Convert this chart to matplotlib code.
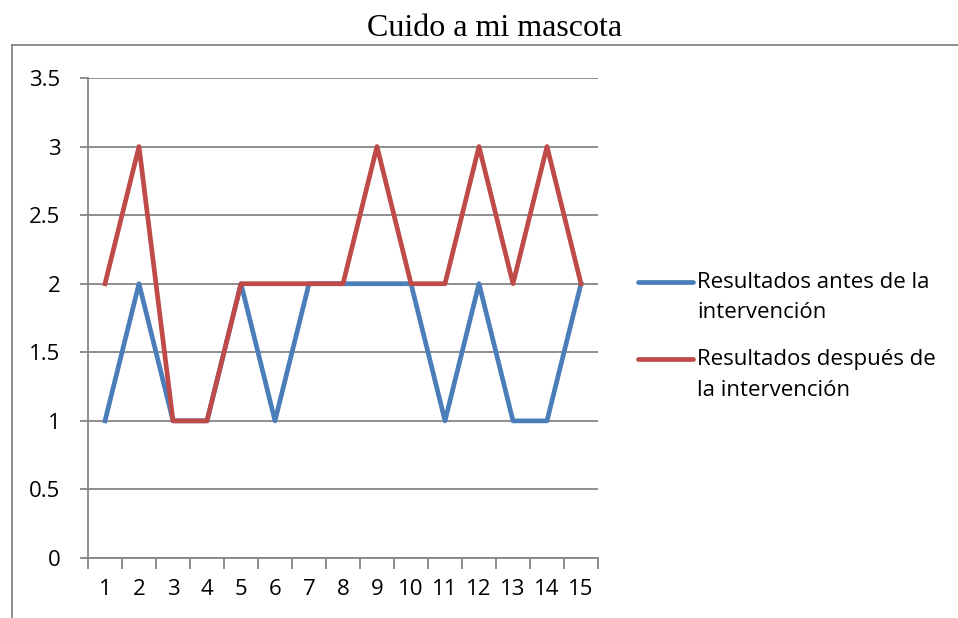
import numpy as np
import matplotlib
matplotlib.use("Agg")
import matplotlib.pyplot as plt
from matplotlib.lines import Line2D

# data
categories = list(range(1, 16))
antes = [1, 2, 1, 1, 2, 1, 2, 2, 2, 2, 1, 2, 1, 1, 2]
despues = [2, 3, 1, 1, 2, 2, 2, 2, 3, 2, 2, 3, 2, 3, 2]
labels = [["Resultados antes de la", "intervención"],
          ["Resultados después de", "la intervención"]]
title = "Cuido a mi mascota"
yticks = [0, 0.5, 1, 1.5, 2, 2.5, 3, 3.5]

blue = "#4A7EBB"
red = "#BE4B48"
grid_grey = "#868686"
font = "Open Sans"
fsize = 16

W, H = 958, 618
fig = plt.figure(figsize=(W / 100, H / 100), dpi=100)
ax = fig.add_axes([88 / W, 1 - 558 / H, (598 - 88) / W, (558 - 78) / H])

x = np.arange(1, len(categories) + 1)
ax.plot(x, antes, color=blue, linewidth=3.4, solid_joinstyle="round", zorder=3)
ax.plot(x, despues, color=red, linewidth=3.4, solid_joinstyle="round", zorder=4)

ax.set_xlim(0.5, len(categories) + 0.5)
ax.set_ylim(0, 3.5)
ax.set_yticks(yticks)
ax.set_yticklabels([("%g" % v) for v in yticks], family=font, fontsize=fsize)
ax.set_xticks(np.arange(0.5, len(categories) + 1, 1))
ax.set_xticklabels([])
ax.set_xticks(x, minor=True)
ax.set_xticklabels([str(c) for c in categories], minor=True, family=font, fontsize=fsize)

ax.grid(axis="y", color=grid_grey, linewidth=1.3, zorder=1)
for s in ["top", "right"]:
    ax.spines[s].set_visible(False)
for s in ["left", "bottom"]:
    ax.spines[s].set_color(grid_grey)
    ax.spines[s].set_linewidth(1.3)

ax.tick_params(axis="y", length=6, width=1.3, color=grid_grey, pad=14)
ax.tick_params(axis="x", which="major", length=8, width=1.3, color=grid_grey)
ax.tick_params(axis="x", which="minor", length=0, pad=15)

fig.text(495 / W, 1 - 28 / H, title, ha="center", va="center",
         family="Liberation Serif", fontsize=23)

# legend, handle aligned with the first text line as in the reference
for (l1, l2), c, y in zip(labels, [blue, red], [282, 359]):
    fig.add_artist(Line2D([638 / W, 693 / W], [1 - y / H, 1 - y / H], color=c,
                          linewidth=3.4, solid_capstyle="round"))
    fig.text(697 / W, 1 - y / H, l1, ha="left", va="center", family=font, fontsize=fsize)
    fig.text(697 / W, 1 - (y + 31) / H, l2, ha="left", va="center", family=font, fontsize=fsize)

# chart area border
fig.add_artist(Line2D([12 / W, 12 / W], [-0.1, 1 - 45 / H], color=grid_grey, linewidth=1.3))
fig.add_artist(Line2D([12 / W, 1.1], [1 - 45 / H, 1 - 45 / H], color=grid_grey, linewidth=1.3))

fig.savefig("out.png", dpi=100)
